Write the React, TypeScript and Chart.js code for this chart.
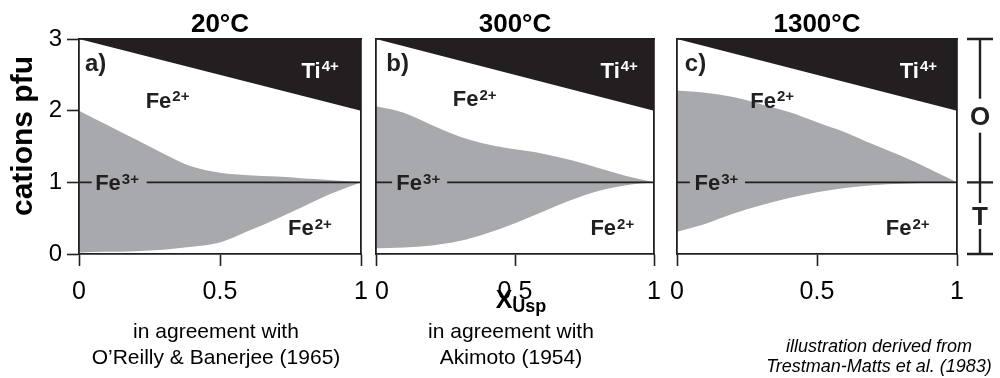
import React, { useEffect, useRef } from 'react';
import { Chart, registerables } from 'chart.js';

Chart.register(...registerables);

// ---------------- data ----------------
const xValues = [0, 0.1, 0.2, 0.3, 0.4, 0.5, 0.6, 0.7, 0.8, 0.9, 1];
const tiBoundaryX = [0, 1];
const tiBoundaryY = [3, 2];

const upper20 = [2.0, 1.8, 1.6, 1.4, 1.22, 1.135, 1.1, 1.08, 1.055, 1.03, 1.0];
const lower20 = [0.02, 0.03, 0.04, 0.06, 0.1, 0.16, 0.32, 0.49, 0.67, 0.85, 1.0];
const upper300 = [2.06, 1.97, 1.8, 1.64, 1.53, 1.46, 1.4, 1.31, 1.2, 1.09, 1.0];
const lower300 = [0.08, 0.09, 0.12, 0.18, 0.29, 0.43, 0.59, 0.75, 0.88, 0.96, 1.0];
const upper1300 = [2.28, 2.25, 2.19, 2.09, 1.98, 1.84, 1.7, 1.53, 1.37, 1.19, 1.0];
const lower1300 = [0.31, 0.42, 0.56, 0.68, 0.78, 0.86, 0.92, 0.96, 0.98, 0.995, 1.0];

const panelTitles = ['20°C', '300°C', '1300°C'];
const panelLetters = ['a)', 'b)', 'c)'];
const upperCurves = [upper20, upper300, upper1300];
const lowerCurves = [lower20, lower300, lower1300];
// x-range where the Fe3+ reference line (y = 1) is interrupted by its label
const fe3LineGaps = [
  [0.045, 0.24],
  [0.058, 0.256],
  [0.046, 0.243],
];
const fe3Level = 1;

const xTickStep = 0.5;
const yTickStep = 1;
const xMin = 0, xMax = 1, yMin = 0, yMax = 3;

// ion labels (text anchored in data units)
const ionLabels = [
  [
    { main: 'Ti', sup: '4+', x: 0.855, y: 2.57, light: true },
    { main: 'Fe', sup: '2+', x: 0.314, y: 2.15 },
    { main: 'Fe', sup: '3+', x: 0.135, y: 1 },
    { main: 'Fe', sup: '2+', x: 0.819, y: 0.37 },
  ],
  [
    { main: 'Ti', sup: '4+', x: 0.875, y: 2.57, light: true },
    { main: 'Fe', sup: '2+', x: 0.355, y: 2.17 },
    { main: 'Fe', sup: '3+', x: 0.152, y: 1 },
    { main: 'Fe', sup: '2+', x: 0.85, y: 0.37 },
  ],
  [
    { main: 'Ti', sup: '4+', x: 0.862, y: 2.57, light: true },
    { main: 'Fe', sup: '2+', x: 0.34, y: 2.15 },
    { main: 'Fe', sup: '3+', x: 0.141, y: 1 },
    { main: 'Fe', sup: '2+', x: 0.824, y: 0.37 },
  ],
];
const letterAnchors = [
  { x: 0.021, y: 2.64 },
  { x: 0.037, y: 2.64 },
  { x: 0.028, y: 2.64 },
];
const bracketSites = [
  { label: 'O', at: 1.93, gap: 34 },
  { label: 'T', at: 0.53, gap: 26 },
];

const noteTexts = [
  ['in agreement with', 'O’Reilly & Banerjee (1965)'],
  ['in agreement with', 'Akimoto (1954)'],
  ['illustration derived from', 'Trestman-Matts et al. (1983)'],
];

// ---------------- layout / style ----------------
const W = 1000;
const H = 378;
const FONT = '"Liberation Sans", Arial, Helvetica, sans-serif';
const INK = '#231f20';
const GRAY = '#a7a9ac';
const panelLeft = [79, 376, 677];
const panelRight = [361, 654, 957];
const PLOT_BOTTOM = 254;
const XAXIS_H = 60;
const ION_SIZE = 22;
const SUP_SIZE = 15;

const noteLayout = [
  { cx: 216, top: 318, size: 21, lh: 26, italic: false },
  { cx: 511, top: 318, size: 21, lh: 26, italic: false },
  { cx: 879, top: 336, size: 18, lh: 20, italic: true },
];

function drawIon(ctx: CanvasRenderingContext2D, px: number, py: number, main: string, sup: string, color: string) {
  const size = ION_SIZE;
  const supSize = SUP_SIZE;
  ctx.font = `bold ${size}px ${FONT}`;
  const w1 = ctx.measureText(main).width;
  ctx.font = `bold ${supSize}px ${FONT}`;
  const w2 = ctx.measureText(sup).width;
  const total = w1 + 1 + w2;
  const x0 = px - total / 2;
  const base = py + size * 0.358;
  ctx.fillStyle = color;
  ctx.textAlign = 'left';
  ctx.textBaseline = 'alphabetic';
  ctx.font = `bold ${size}px ${FONT}`;
  ctx.fillText(main, x0, base);
  ctx.font = `bold ${supSize}px ${FONT}`;
  ctx.fillText(sup, x0 + w1 + 1, base - size * 0.3);
}

function makeAnnotationPlugin(i: number) {
  return {
    id: 'annot' + i,
    afterDatasetsDraw(chart: any) {
      const { ctx } = chart;
      const xs = chart.scales.x;
      const ys = chart.scales.y;
      ctx.save();
      for (const lb of ionLabels[i]) {
        drawIon(ctx, xs.getPixelForValue(lb.x), ys.getPixelForValue(lb.y), lb.main, lb.sup, (lb as any).light ? '#ffffff' : INK);
      }
      const ls = 24;
      ctx.font = `bold ${ls}px ${FONT}`;
      ctx.fillStyle = INK;
      ctx.textAlign = 'left';
      ctx.textBaseline = 'alphabetic';
      ctx.fillText(panelLetters[i], xs.getPixelForValue(letterAnchors[i].x), ys.getPixelForValue(letterAnchors[i].y) + ls * 0.27);
      ctx.restore();
    },
    afterDraw(chart: any) {
      if (i !== 2) return;
      const { ctx } = chart;
      const ys = chart.scales.y;
      const bx = chart.chartArea.right + 23;
      ctx.save();
      ctx.strokeStyle = INK;
      ctx.lineWidth = 2.4;
      ctx.beginPath();
      ctx.moveTo(bx, ys.getPixelForValue(yMax));
      ctx.lineTo(bx, ys.getPixelForValue(yMin));
      const caps = [yMax, fe3Level, yMin];
      for (const v of caps) {
        const py = ys.getPixelForValue(v);
        ctx.moveTo(bx - 13, py);
        ctx.lineTo(bx + 13, py);
      }
      ctx.stroke();
      const fs = 26;
      for (const s of bracketSites) {
        const py = ys.getPixelForValue(s.at);
        ctx.fillStyle = '#ffffff';
        ctx.fillRect(bx - 3, py - s.gap / 2, 6, s.gap);
        ctx.fillStyle = INK;
        ctx.font = `bold ${fs}px ${FONT}`;
        ctx.textAlign = 'center';
        ctx.textBaseline = 'alphabetic';
        ctx.fillText(s.label, bx, py + fs * 0.358);
      }
      ctx.restore();
    },
  };
}

function makeConfig(i: number): any {
  const first = i === 0;
  const upper = upperCurves[i];
  const lower = lowerCurves[i];
  const [g0, g1] = fe3LineGaps[i];
  const fe3Line = [
    { x: xMin, y: fe3Level },
    { x: g0, y: fe3Level },
    { x: (g0 + g1) / 2, y: null },
    { x: g1, y: fe3Level },
    { x: xMax, y: fe3Level },
  ];
  const borderOpts = { display: true, color: INK, width: 1.8, z: 1 };
  return {
    type: 'line',
    data: {
      datasets: [
        {
          data: tiBoundaryX.map((x, k) => ({ x, y: tiBoundaryY[k] })),
          fill: 'end',
          backgroundColor: INK,
          borderWidth: 0,
          pointRadius: 0,
          order: 1,
        },
        {
          data: xValues.map((x, k) => ({ x, y: upper[k] })),
          fill: '+1',
          backgroundColor: GRAY,
          borderWidth: 0,
          pointRadius: 0,
          cubicInterpolationMode: 'monotone',
          order: 2,
        },
        {
          data: xValues.map((x, k) => ({ x, y: lower[k] })),
          fill: false,
          borderWidth: 0,
          pointRadius: 0,
          cubicInterpolationMode: 'monotone',
          order: 3,
        },
        {
          data: fe3Line,
          fill: false,
          borderColor: INK,
          borderWidth: 1.7,
          pointRadius: 0,
          spanGaps: false,
          order: -1,
        },
      ],
    },
    options: {
      animation: false,
      responsive: false,
      maintainAspectRatio: false,
      events: [],
      layout: {
        padding: {
          left: first ? 0 : panelLeft[i],
          right: W - panelRight[i],
          top: 0,
          bottom: H - PLOT_BOTTOM - XAXIS_H,
        },
      },
      plugins: {
        legend: { display: false },
        tooltip: { enabled: false },
        title: {
          display: true,
          text: panelTitles[i],
          fullSize: false,
          align: 'center',
          color: '#000',
          font: { family: FONT, size: 26, weight: 'bold', lineHeight: 1 },
          padding: { top: 12, bottom: 1 },
        },
      },
      scales: {
        x: {
          type: 'linear',
          position: 'bottom',
          min: xMin,
          max: xMax,
          ticks: {
            stepSize: xTickStep,
            color: '#000',
            font: { family: FONT, size: 25 },
            padding: 11,
            maxRotation: 0,
            autoSkip: false,
            callback: (v: any) => {
              const s = String(Number(v));
              // nudge the shared "1 0" boundary labels apart, as in the original
              return i === 1 && Number(v) === xMin ? '\u2009 ' + s : s;
            },
          },
          grid: {
            display: true,
            drawOnChartArea: false,
            drawTicks: true,
            tickLength: 12,
            tickWidth: 1.6,
            tickColor: INK,
            color: INK,
          },
          border: borderOpts,
          afterFit: (s: any) => {
            s.height = XAXIS_H;
          },
        },
        xTop: {
          type: 'linear',
          position: 'top',
          min: xMin,
          max: xMax,
          ticks: { display: false },
          grid: { display: false },
          border: borderOpts,
          afterFit: (s: any) => {
            s.height = 0;
          },
        },
        y: {
          type: 'linear',
          position: 'left',
          min: yMin,
          max: yMax,
          ticks: {
            display: first,
            stepSize: yTickStep,
            color: '#000',
            font: { family: FONT, size: 24 },
            padding: 5,
            callback: (v: any) => String(Number(v)),
          },
          grid: {
            display: first,
            drawOnChartArea: false,
            drawTicks: true,
            tickLength: 12,
            tickWidth: 1.6,
            tickColor: INK,
            color: INK,
          },
          border: borderOpts,
          afterFit: (s: any) => {
            s.width = first ? panelLeft[0] : 0;
          },
        },
        yRight: {
          type: 'linear',
          position: 'right',
          min: yMin,
          max: yMax,
          ticks: { display: false },
          grid: { display: false },
          border: borderOpts,
          afterFit: (s: any) => {
            s.width = 0;
          },
        },
      },
    },
    plugins: [makeAnnotationPlugin(i)],
  };
}

export default function App() {
  const r0 = useRef<HTMLCanvasElement>(null);
  const r1 = useRef<HTMLCanvasElement>(null);
  const r2 = useRef<HTMLCanvasElement>(null);

  useEffect(() => {
    const refs = [r0, r1, r2];
    const charts = refs.map((r, i) => new Chart(r.current as HTMLCanvasElement, makeConfig(i)));
    return () => {
      charts.forEach((c) => c.destroy());
    };
  }, []);

  const canvasStyle: React.CSSProperties = { position: 'absolute', left: 0, top: 0, width: W, height: H };

  return (
    <div
      style={{
        position: 'fixed',
        left: 0,
        top: 0,
        width: W,
        height: H,
        background: '#ffffff',
        overflow: 'hidden',
        fontFamily: FONT,
        color: '#000',
      }}
    >
      <canvas ref={r0} width={W} height={H} style={canvasStyle} />
      <canvas ref={r1} width={W} height={H} style={canvasStyle} />
      <canvas ref={r2} width={W} height={H} style={canvasStyle} />

      <div
        style={{
          position: 'absolute',
          left: 22,
          top: 136,
          transform: 'translate(-50%, -50%) rotate(-90deg)',
          whiteSpace: 'nowrap',
          fontWeight: 'bold',
          fontSize: 30,
          lineHeight: '30px',
        }}
      >
        cations pfu
      </div>

      <div
        style={{
          position: 'absolute',
          left: 421,
          width: 200,
          top: 284,
          textAlign: 'center',
          fontWeight: 'bold',
          fontSize: 25,
          lineHeight: '30px',
          whiteSpace: 'nowrap',
        }}
      >
        X<span style={{ fontSize: 18, verticalAlign: '-4px' }}>Usp</span>
      </div>

      {noteTexts.map((lines, i) => {
        const lay = noteLayout[i];
        return (
          <div
            key={i}
            style={{
              position: 'absolute',
              left: lay.cx - 150,
              width: 300,
              top: lay.top,
              textAlign: 'center',
              fontSize: lay.size,
              lineHeight: `${lay.lh}px`,
              fontStyle: lay.italic ? 'italic' : 'normal',
              whiteSpace: 'nowrap',
            }}
          >
            {lines.map((t, k) => (
              <div key={k}>{t}</div>
            ))}
          </div>
        );
      })}
    </div>
  );
}
